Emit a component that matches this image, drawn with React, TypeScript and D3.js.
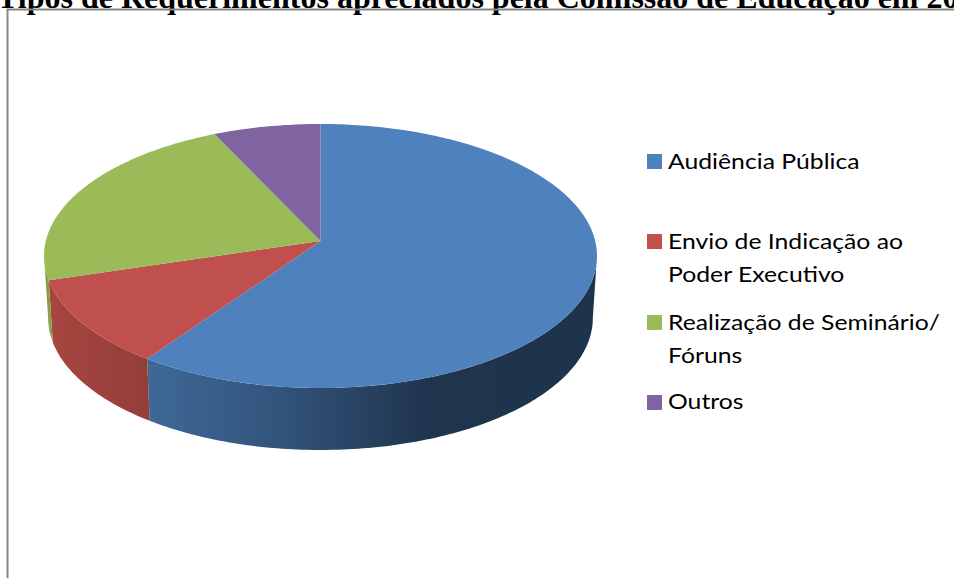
import React from "react";
import * as d3 from "d3";

const categories = ["Audiência Pública", "Envio de Indicação ao Poder Executivo", "Realização de Seminário/ Fóruns", "Outros"];
const values = [59.7, 10.6, 22.7, 7.0];
const colors = ["#4f81bd", "#c0504d", "#9bbb59", "#8064a2"];
const legendLines = [["Audiência Pública"], ["Envio de Indicação ao", "Poder Executivo"], ["Realização de Seminário/", "Fóruns"], ["Outros"]];
const swatchTop = [154, 234, 315, 395];
const baselines = [168.5, 249, 330, 409];
const title = "Tipos de Requerimentos apreciados pela Comissão de Educação em 2009";

const CX = 320.5, CY = 241, RX = 274.7, RY = 130.3, K = 0.1136, DEPTH = 62;

function project(a: number, depth = 0): [number, number] {
  const X = Math.sin(a), Y = -Math.cos(a);
  const w = 1 - K * Y;
  const s = 1 - (0.015 * depth) / DEPTH;
  return [CX + (RX * X / w) * s, CY + (RY * Y / w) + depth];
}
const line = d3.line();
function arcPts(a0: number, a1: number, depth = 0) {
  const n = Math.max(2, Math.ceil(Math.abs(a1 - a0) * 60));
  return d3.range(n + 1).map((i) => project(a0 + ((a1 - a0) * i) / n, depth));
}

export default function App() {
  const arcs = d3.pie<number>().sort(null)(values);
  const TAU = Math.PI * 2;
  const leftSil = 1.5 * Math.PI - Math.asin(K);
  const rightSil = 0.5 * Math.PI + Math.asin(K);
  const sides = arcs.map((d, i) => {
    const a0 = Math.max(d.startAngle, rightSil);
    const a1 = Math.min(d.endAngle, leftSil);
    if (a1 <= a0) return null;
    const top = arcPts(a0, a1);
    const bottom = arcPts(a1, a0, DEPTH);
    return { i, path: line([...top, ...bottom])! + "Z" };
  });
  return (
    <svg width={954} height={578} style={{ position: "absolute", left: 0, top: 0, background: "#fff" }}>
      <defs>
        <linearGradient id="blueSide" gradientUnits="userSpaceOnUse" x1={148} x2={600} y1={0} y2={0}>
          <stop offset="0" stopColor="#3f6897" />
          <stop offset="0.25" stopColor="#345780" />
          <stop offset="0.51" stopColor="#273f5d" />
          <stop offset="0.62" stopColor="#1f344d" />
          <stop offset="1" stopColor="#1e334c" />
        </linearGradient>
        <linearGradient id="redSide" gradientUnits="userSpaceOnUse" x1={50} x2={150} y1={0} y2={0}>
          <stop offset="0" stopColor="#a8453f" />
          <stop offset="1" stopColor="#933e3a" />
        </linearGradient>
        <linearGradient id="greenSide" gradientUnits="userSpaceOnUse" x1={44} x2={55} y1={0} y2={0}>
          <stop offset="0" stopColor="#7f9a47" />
          <stop offset="1" stopColor="#8aa84f" />
        </linearGradient>
      </defs>
      <text x={-3} y={7.5} fontFamily="Liberation Serif" fontWeight="bold" fontSize={32} fill="#000">{title}</text>
      <path d="M7.5 578V9.5H954" fill="none" stroke="#868686" strokeWidth={2} />
      {sides.map((s) => s && (
        <path key={s.i} d={s.path} fill={["url(#blueSide)", "url(#redSide)", "url(#greenSide)", "#6a5488"][s.i]} />
      ))}
      {arcs.map((d, i) => (
        <path key={i} d={line([[CX, CY], ...arcPts(d.startAngle, Math.min(d.endAngle, TAU))])! + "Z"} fill={colors[i]} />
      ))}
      {categories.map((c, i) => (
        <g key={c}>
          <rect x={647} y={swatchTop[i]} width={15} height={15} fill={colors[i]} />
          {legendLines[i].map((t, j) => (
            <text key={t} transform={`translate(668,${baselines[i] + j * 32.5}) scale(1.125,1)`} fontFamily="Lato" fontSize={22} fill="#000">{t}</text>
          ))}
        </g>
      ))}
    </svg>
  );
}
